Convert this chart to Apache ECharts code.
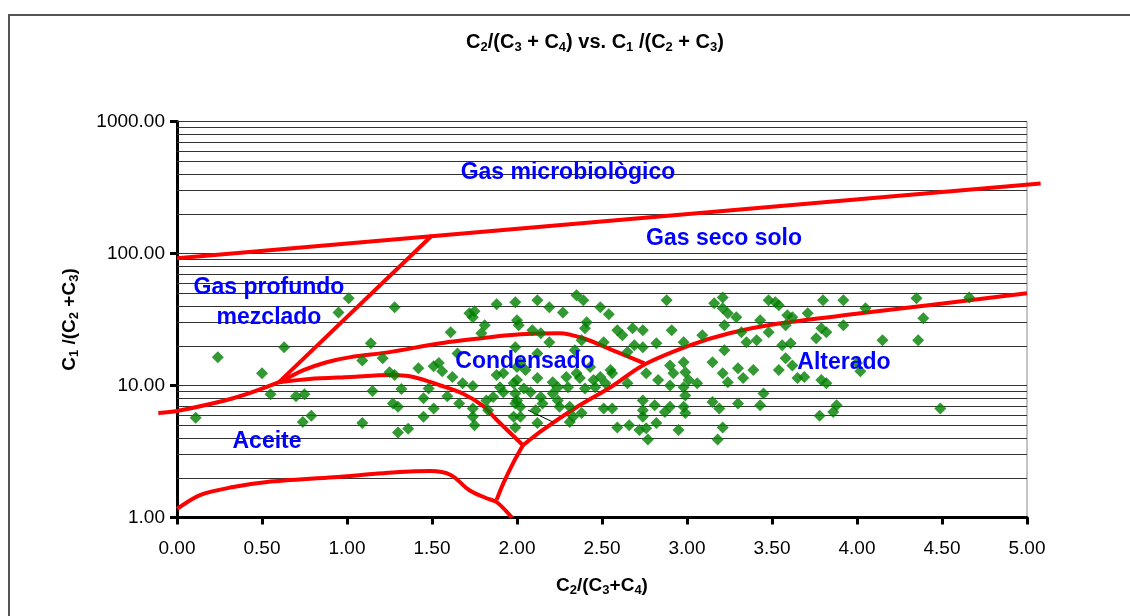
<!DOCTYPE html>
<html>
<head>
<meta charset="utf-8">
<title>C2/(C3+C4) vs. C1/(C2+C3)</title>
<script src="https://cdn.jsdelivr.net/npm/echarts@6/dist/echarts.min.js"></script>
<style>
	html,body{margin:0;padding:0;background:#fff;}
	#chart{width:1130px;height:616px;}
</style>
</head>
<body>
<div id="chart"></div>
<script>
// muestras: [C2/(C3+C4), C1/(C2+C3)]
const muestras = [
	[0.11,5.7],[0.24,16.4],[0.50,12.4],[0.55,8.6],[0.63,19.5],[0.70,8.3],[0.75,8.6],[0.74,5.3],[0.79,5.9],[0.95,35.8],[1.01,45.8],
	[1.28,39.1],[1.14,20.9],[1.09,15.5],[1.21,16.1],[1.25,12.6],[1.28,12.0],[1.42,13.5],[1.51,14.0],[1.54,14.8],[1.56,12.8],
	[1.61,25.3],[1.15,9.1],[1.32,9.4],[1.48,9.5],[1.45,8.0],[1.27,7.3],[1.30,6.9],[1.51,6.7],[1.59,8.3],[1.62,11.6],
	[1.68,10.4],[1.66,7.3],[1.45,5.8],[1.09,5.2],[1.30,4.4],[1.36,4.7],[1.74,6.7],[1.74,9.9],[1.74,5.8],[1.75,5.0],
	[1.72,35.2],[1.75,36.5],[1.74,32.9],[1.81,28.6],[1.79,24.9],[1.88,41.2],[1.99,42.7],[2.00,31.2],[1.99,19.5],[1.65,17.5],
	[1.88,12.0],[1.92,12.4],[1.90,9.7],[1.92,8.9],[1.82,7.7],[1.86,8.2],[1.83,6.5],[1.98,10.4],[1.99,8.7],[1.99,7.3],
	[1.98,5.8],[1.99,4.8],[2.00,13.8],
	[2.12,44.2],[2.19,39.1],[2.27,35.8],[2.35,48.2],[2.39,44.2],[2.49,39.1],[2.54,34.6],[2.88,44.2],[2.01,28.6],[2.41,30.1],
	[2.40,27.1],[2.09,26.2],[2.14,24.9],[2.19,21.3],[2.34,18.5],[2.38,22.0],[2.51,21.3],[2.59,26.2],[2.62,24.0],[2.68,27.1],
	[2.74,26.2],[2.69,20.2],[2.74,19.5],[2.82,20.9],[2.91,26.2],[2.98,21.3],[2.65,17.9],[2.12,17.5],[2.02,14.8],[2.05,13.1],
	[2.55,13.1],[2.56,12.4],[2.00,11.0],[2.12,11.4],[2.21,10.6],[2.24,9.7],[2.29,11.6],[2.30,9.7],[2.35,12.4],[2.37,11.4],
	[2.43,13.8],[2.45,11.0],[2.46,9.7],[2.49,11.6],[2.52,10.4],[2.40,9.5],[2.65,10.4],[2.76,12.4],[2.83,11.0],[2.90,14.2],
	[2.92,12.4],[2.90,10.0],[2.98,15.0],[2.99,12.6],[2.98,9.7],[2.99,8.4],[2.04,9.5],[2.08,8.9],[2.14,8.2],[2.15,7.3],
	[2.21,8.7],[2.24,7.7],[2.25,6.9],[2.00,7.7],[2.02,6.9],[2.02,5.8],[2.11,6.5],[2.12,5.2],[2.31,6.9],[2.33,5.8],
	[2.38,6.2],[2.31,5.3],[2.51,6.7],[2.56,6.7],[2.74,7.7],[2.74,6.5],[2.74,5.8],[2.81,7.1],[2.87,6.3],[2.90,6.9],
	[2.59,4.8],[2.66,5.0],[2.72,4.6],[2.76,4.75],[2.77,3.9],[2.82,5.2],[2.95,4.6],[2.98,6.9],[2.99,6.2],
	[3.16,41.9],[3.21,46.5],[3.21,38.4],[3.24,35.2],[3.29,32.9],[3.22,28.6],[3.43,31.2],[3.48,44.2],[3.52,42.7],[3.54,40.5],
	[3.80,44.2],[3.92,44.2],[3.59,34.0],[3.62,32.9],[3.71,35.2],[3.92,28.6],[3.09,24.0],[3.32,25.3],[3.35,21.3],[3.41,22.0],
	[3.48,25.3],[3.58,28.6],[3.79,27.1],[3.82,25.3],[3.76,22.8],[3.22,18.5],[3.56,20.2],[3.61,20.9],[3.58,16.1],[3.15,15.0],
	[3.21,12.4],[3.24,10.6],[3.30,13.5],[3.33,11.4],[3.39,13.1],[3.54,13.1],[3.62,14.2],[3.65,11.4],[3.69,11.6],[3.79,11.0],
	[3.82,10.4],[3.01,11.0],[3.06,10.4],[3.15,7.5],[3.19,6.7],[3.30,7.3],[3.43,7.1],[3.45,8.7],[3.21,4.8],[3.18,3.9],
	[3.78,5.9],[3.86,6.3],[3.88,7.1],[4.00,14.8],[4.02,12.8],
	[4.05,38.4],[4.35,45.8],[4.66,46.5],[4.39,32.3],[4.15,22.0],[4.36,22.0],[4.49,6.7]
];

// limites de los campos
const limiteMicrobiano = [[0,92],[5.08,339]];
const limiteProfundo = [[0.6,10.6],[1.5,137]];
const limiteCondensadoSup = [[-0.11,6.2],[0,6.4],[0.33,8.0],[0.6,10.6],[0.74,13.0],[0.88,15.0],[1.02,16.4],[1.25,17.9],
	[1.55,20.9],[1.84,23.2],[2.02,24.4],[2.25,24.9],[2.39,22.8],[2.55,18.8],[2.75,14.7]];
const limiteCondensadoInf = [[0.6,10.6],[0.78,11.2],[1.02,11.6],[1.25,12.0],[1.39,11.6],[1.55,10.0],[1.68,8.7],
	[1.8,7.0],[1.88,5.5],[2.035,3.53]];
const limiteAlterado = [[2.035,3.53],[2.15,4.6],[2.35,6.85],[2.55,9.7],[2.74,14.2],[3.02,20.2],[3.25,24.9],
	[3.55,29.6],[4.02,35.2],[5.0,49.9]];
const limiteUnion = [[2.035,3.53],[1.98,2.63],[1.92,1.82],[1.88,1.36]];
const limiteAceite = [[0,1.16],[0.135,1.48],[0.33,1.70],[0.53,1.86],[0.92,2.02],[1.31,2.21],[1.49,2.25],[1.61,2.10],
	[1.72,1.61],[1.82,1.40],[1.88,1.31],[1.97,1.0]];
const trazoNegro = [[2.065,6.5],[2.21,5.3]];

// lineas de la escala logaritmica
const lineasGuia = [2,3,4,5,6,7,8,9,10,20,30,40,50,60,70,80,90,100,200,300,400,500,600,700,800,900,1000];

const campos = [
	{texto:'Gas microbiològico', x:568, y:173},
	{texto:'Gas seco solo', x:724, y:239},
	{texto:'Gas profundo', x:269, y:288},
	{texto:'mezclado', x:269, y:318},
	{texto:'Condensado', x:525, y:362},
	{texto:'Alterado', x:844, y:363},
	{texto:'Aceite', x:267, y:442}
];

const fuente = '"Liberation Sans", Arial, sans-serif';
const negrita = {fontSize:19, fontWeight:'bold', fontFamily:fuente, color:'#000', lineHeight:22};
const sub = {fontSize:13, fontWeight:'bold', fontFamily:fuente, color:'#000', lineHeight:11, verticalAlign:'bottom'};

// las lineas que salen del area usan un segundo eje, mas ancho y con la misma escala
function borde(data, smooth, ancho){
	return {
		type:'line', data:data, smooth:smooth, symbol:'none', showSymbol:false,
		xAxisIndex:ancho ? 1 : 0, yAxisIndex:ancho ? 1 : 0,
		lineStyle:{color:'#ff0000', width:4}, z:3, silent:true, animation:false
	};
}

const chart = echarts.init(document.getElementById('chart'));
const option = {
	backgroundColor:'#fff',
	animation:false,
	grid:[
		{left:177, right:103, top:121.5, bottom:98.5, show:true, borderColor:'#888', borderWidth:1, backgroundColor:'transparent'},
		{left:143, right:69, top:121.5, bottom:98.5, show:false}
	],
	xAxis:[{
		type:'value', min:0, max:5, interval:0.5,
		name:'{b|C}{s|2}{b|/(C}{s|3}{b|+C}{s|4}{b|)}',
		nameLocation:'middle', nameGap:57,
		nameTextStyle:{rich:{b:negrita, s:sub}},
		axisLine:{show:true, onZero:false, lineStyle:{color:'#000', width:3}},
		axisTick:{show:true, length:7, lineStyle:{color:'#000', width:3}},
		axisLabel:{margin:22, fontSize:19, fontFamily:fuente, color:'#000', formatter:v=>v.toFixed(2)},
		splitLine:{show:false}
	},{
		gridIndex:1, type:'value', min:-0.2, max:5.2, show:false, splitLine:{show:false}
	}],
	yAxis:[{
		type:'log', logBase:10, min:1, max:1000,
		name:'{b|C}{s|1}{b| /(C}{s|2}{b| +C}{s|3}{b|)}',
		nameLocation:'middle', nameGap:96, nameRotate:90,
		nameTextStyle:{rich:{b:negrita, s:sub}},
		axisLine:{show:true, lineStyle:{color:'#000', width:3}},
		axisTick:{show:true, length:7, lineStyle:{color:'#000', width:3}},
		axisLabel:{margin:12, fontSize:19, fontFamily:fuente, color:'#000', formatter:v=>v.toFixed(2)},
		splitLine:{show:false}
	},{
		gridIndex:1, type:'log', logBase:10, min:1, max:1000, show:false, splitLine:{show:false}
	}],
	graphic:[
		{type:'rect', shape:{x:9, y:15, width:1300, height:800}, style:{fill:'none', stroke:'#555', lineWidth:2}, silent:true, z:-1},
		{type:'text', x:595, y:42, z:100, style:{
			text:'{b|C}{s|2}{b|/(C}{s|3}{b| + C}{s|4}{b|) vs. C}{s|1}{b| /(C}{s|2}{b| + C}{s|3}{b|)}',
			align:'center', verticalAlign:'middle',
			rich:{b:{fontSize:20, fontWeight:'bold', fontFamily:fuente, fill:'#000', lineHeight:23}, s:{fontSize:13, fontWeight:'bold', fontFamily:fuente, fill:'#000', lineHeight:8, verticalAlign:'bottom'}}
		}}
	].concat(campos.map(c=>({
		type:'text', x:c.x, y:c.y, z:100, silent:true,
		style:{text:c.texto, align:'center', verticalAlign:'middle', fill:'#0000ff', font:'bold 23px ' + fuente}
	}))),
	series:[
		{
			type:'line', data:[], z:1, silent:true, animation:false,
			markLine:{
				silent:true, z:1, animation:false, symbol:['none','none'], label:{show:false},
				lineStyle:{color:'#333', width:1, type:'solid'},
				data:lineasGuia.map(v=>({yAxis:v}))
			}
		},
		borde(limiteMicrobiano, false, true),
		borde(limiteProfundo, false, false),
		borde(limiteCondensadoSup, 0.3, true),
		borde(limiteCondensadoInf, 0.3, false),
		borde(limiteAlterado, 0.3, false),
		borde(limiteUnion, 0.3, false),
		borde(limiteAceite, 0.3, false),
		{type:'line', data:trazoNegro, symbol:'none', showSymbol:false, lineStyle:{color:'#000', width:1}, z:3, silent:true, animation:false},
		{
			type:'scatter', data:muestras, symbol:'diamond', symbolSize:12,
			itemStyle:{color:'#008000'}, z:4, animation:false
		}
	]
};
chart.setOption(option);
</script>
</body>
</html>
